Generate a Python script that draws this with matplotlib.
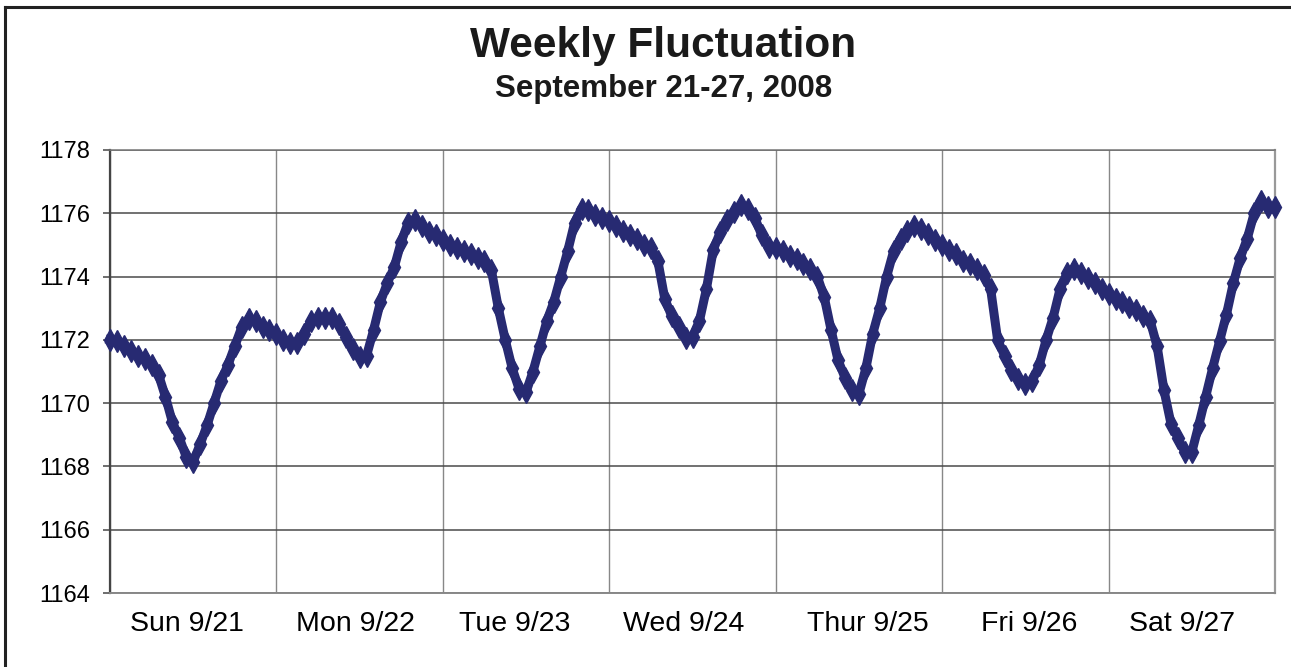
import matplotlib
matplotlib.use("Agg")
import matplotlib.pyplot as plt
import numpy as np
from matplotlib.lines import Line2D

# Hourly readings, Sun 9/21 00:00 through Sun 9/28 00:00
sun = [1172.0, 1171.95, 1171.8, 1171.65, 1171.5, 1171.4, 1171.2, 1170.9,
       1170.2, 1169.4, 1168.9, 1168.3, 1168.15, 1168.7, 1169.3, 1170.0,
       1170.7, 1171.2, 1171.8, 1172.4, 1172.65, 1172.6, 1172.4, 1172.3]
mon = [1172.2, 1172.0, 1171.9, 1171.9, 1172.2, 1172.6, 1172.7, 1172.7,
       1172.7, 1172.5, 1172.1, 1171.7, 1171.45, 1171.5, 1172.3, 1173.2,
       1173.8, 1174.3, 1175.1, 1175.7, 1175.8, 1175.6, 1175.4, 1175.3]
tue = [1175.15, 1175.0, 1174.9, 1174.8, 1174.7, 1174.6, 1174.5, 1174.2,
       1173.0, 1172.0, 1171.1, 1170.45, 1170.35, 1171.0, 1171.8, 1172.6,
       1173.2, 1174.0, 1174.8, 1175.7, 1176.15, 1176.1, 1175.95, 1175.85]
wed = [1175.75, 1175.6, 1175.45, 1175.3, 1175.2, 1175.0, 1174.9, 1174.5,
       1173.3, 1172.75, 1172.4, 1172.05, 1172.1, 1172.6, 1173.6, 1174.85,
       1175.4, 1175.8, 1176.05, 1176.25, 1176.15, 1175.85, 1175.3, 1174.95]
thu = [1174.9, 1174.8, 1174.65, 1174.55, 1174.4, 1174.25, 1174.0, 1173.35,
       1172.3, 1171.35, 1170.8, 1170.4, 1170.3, 1171.1, 1172.2, 1173.0,
       1174.0, 1174.8, 1175.2, 1175.45, 1175.6, 1175.5, 1175.35, 1175.15]
fri = [1175.0, 1174.85, 1174.7, 1174.5, 1174.4, 1174.25, 1174.05, 1173.6,
       1172.0, 1171.5, 1171.05, 1170.75, 1170.6, 1170.7, 1171.2, 1172.0,
       1172.7, 1173.6, 1174.1, 1174.25, 1174.1, 1173.95, 1173.8, 1173.6]
sat = [1173.45, 1173.3, 1173.2, 1173.05, 1172.95, 1172.75, 1172.6, 1171.8,
       1170.4, 1169.35, 1168.9, 1168.45, 1168.45, 1169.3, 1170.2, 1171.1,
       1171.95, 1172.8, 1173.8, 1174.6, 1175.2, 1176.0, 1176.4, 1176.2,
       1176.2]

day_labels = ["Sun 9/21", "Mon 9/22", "Tue 9/23", "Wed 9/24",
              "Thur 9/25", "Fri 9/26", "Sat 9/27"]
y_ticks = [1164, 1166, 1168, 1170, 1172, 1174, 1176, 1178]

# layout: where the day labels sit along the axis (in days)
label_pos = [0.463, 1.472, 2.433, 3.449, 4.555, 5.522, 6.441]

values = sun + mon + tue + wed + thu + fri + sat
hours = np.arange(len(values)) / 24.0

plt.rcParams['font.family'] = ['Liberation Sans', 'DejaVu Sans']

fig = plt.figure(figsize=(12.91, 6.67), dpi=100)
ax = fig.add_axes([110/1291, 1 - 593/667, (1275-110)/1291, (593-150)/667])

color = '#272A72'
ax.plot(hours, values, color=color, lw=6.5, marker='d', ms=11,
        markeredgecolor=color, markerfacecolor=color, clip_on=False, zorder=3)

ax.set_xlim(0, 7)
ax.set_ylim(1164, 1178)
ax.set_yticks(y_ticks)
ax.set_yticklabels([str(v) for v in y_ticks], fontsize=17)

ax.set_xticks(np.arange(0, 8))
ax.set_xticklabels([])
ax.set_xticks(label_pos, minor=True)
ax.set_xticklabels(day_labels, minor=True, fontsize=20.5)
ax.tick_params(axis='x', which='both', length=0)
ax.tick_params(axis='x', which='minor', pad=13)
ax.tick_params(axis='y', length=5, width=1.2, color='#555555', pad=9.5)

ax.grid(axis='y', color='#4a4a4a', lw=1.1)
ax.grid(axis='x', which='major', color='#888888', lw=1.0)
ax.set_axisbelow(True)

ax.spines['left'].set_color('#444444')
ax.spines['left'].set_linewidth(1.6)
ax.spines['bottom'].set_color('#888888')
ax.spines['bottom'].set_linewidth(1.4)
ax.spines['right'].set_color('#999999')
ax.spines['right'].set_linewidth(1.6)
ax.spines['top'].set_color('#777777')
ax.spines['top'].set_linewidth(1.1)

fig.text(663/1291, 1 - 46/667, "Weekly Fluctuation", ha='center', va='center',
         fontsize=30.5, fontweight='bold', color='#1a1a1a')
fig.text(664/1291, 1 - 89/667, "September 21-27, 2008", ha='center', va='center',
         fontsize=22.5, fontweight='bold', color='#1a1a1a')

# outer frame (top and left edges)
fig.add_artist(Line2D([5/1291, 1.0], [1 - 7/667, 1 - 7/667], color='#222222', lw=2.2,
                      transform=fig.transFigure))
fig.add_artist(Line2D([5/1291, 5/1291], [0, 1 - 7/667], color='#222222', lw=2.2,
                      transform=fig.transFigure))

fig.savefig("out.png", dpi=100, facecolor='white')
